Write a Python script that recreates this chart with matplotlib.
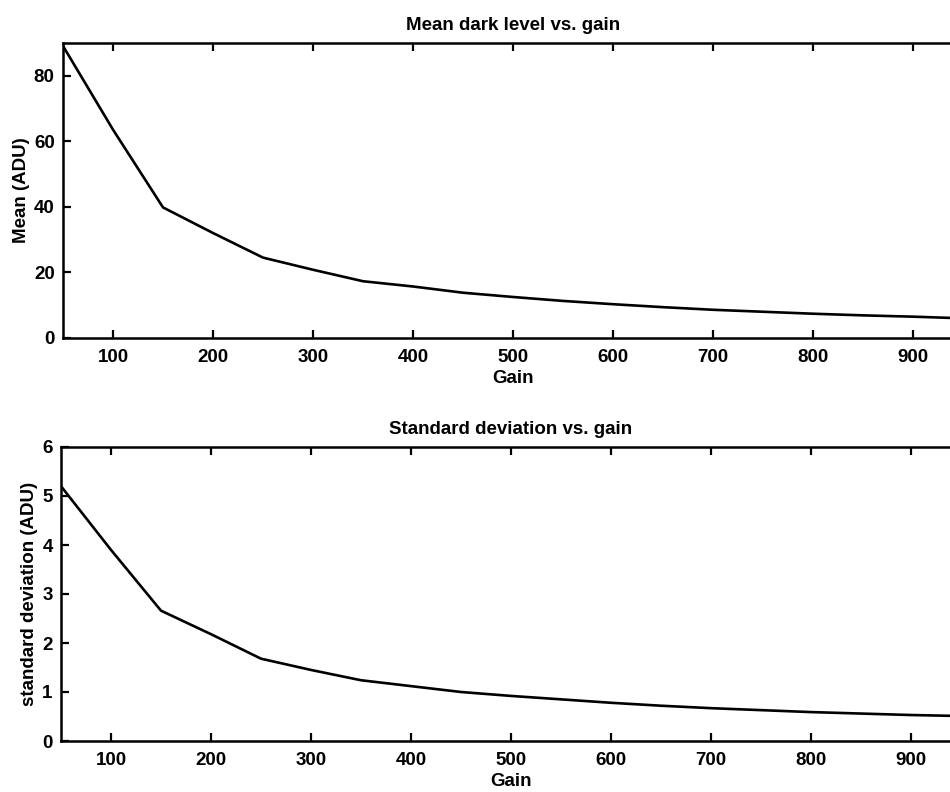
import matplotlib
matplotlib.use("Agg")
import matplotlib.pyplot as plt

# gain settings and measured dark frame statistics
gain = [50, 100, 150, 200, 250, 300, 350, 400, 450, 500,
        550, 600, 650, 700, 750, 800, 850, 900, 950]
mean_adu = [89, 63.5, 39.8, 32, 24.5, 20.8, 17.3, 15.7, 13.8, 12.5,
            11.3, 10.3, 9.4, 8.6, 8.0, 7.4, 6.9, 6.5, 6.0]
std_adu = [5.2, 3.9, 2.66, 2.18, 1.68, 1.45, 1.24, 1.12, 1.0, 0.92,
           0.85, 0.78, 0.72, 0.67, 0.63, 0.59, 0.56, 0.53, 0.51]

x_ticks = [100, 200, 300, 400, 500, 600, 700, 800, 900]
mean_ticks = [0, 20, 40, 60, 80]
std_ticks = [0, 1, 2, 3, 4, 5, 6]

plt.rcParams['font.family'] = ['Liberation Sans', 'DejaVu Sans']
plt.rcParams['font.weight'] = 'bold'

fig = plt.figure(figsize=(9.5, 7.92), dpi=100)
W, H = 950.0, 792.0

# axes run off the right edge like the scanned original
ax1 = fig.add_axes([63 / W, 1 - 338 / H, 900 / W, (338 - 42.7) / H])
ax2 = fig.add_axes([61 / W, 1 - 741 / H, 900 / W, (741 - 447) / H])


def style_axis(ax, yticks, ylim, ylabel, title):
    ax.set_xlim(50, 950)
    ax.set_ylim(*ylim)
    ax.set_xticks(x_ticks)
    ax.set_yticks(yticks)
    ax.tick_params(direction='in', length=6, width=1.6, top=True, right=True,
                   labelsize=13.5, pad=6)
    ax.tick_params(axis='x', pad=8)
    for s in ax.spines.values():
        s.set_linewidth(1.8)
    ax.set_xlabel('Gain', fontsize=13.5, fontweight='bold', labelpad=3)
    ax.set_ylabel(ylabel, fontsize=13.5, fontweight='bold', labelpad=3)
    ax.set_title(title, fontsize=13.5, fontweight='bold', pad=9)


ax1.plot(gain, mean_adu, color='black', linewidth=1.9)
style_axis(ax1, mean_ticks, (0, 90), 'Mean (ADU)', 'Mean dark level vs. gain')

ax2.plot(gain, std_adu, color='black', linewidth=1.9)
style_axis(ax2, std_ticks, (0, 6), 'standard deviation (ADU)', 'Standard deviation vs. gain')

fig.savefig('out.png', dpi=100)
